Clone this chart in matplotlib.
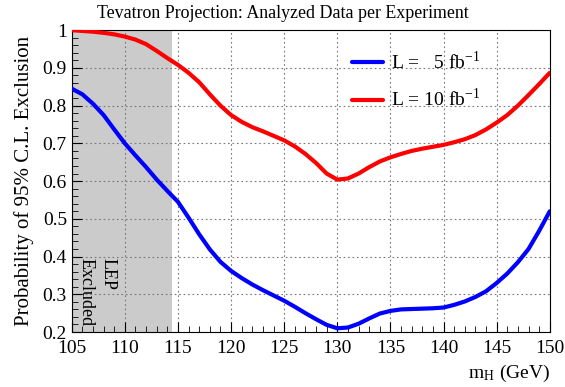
import matplotlib
matplotlib.use("Agg")
import matplotlib.pyplot as plt
from matplotlib.ticker import MultipleLocator

plt.rcParams['font.family'] = ['Liberation Serif', 'DejaVu Serif']
plt.rcParams['mathtext.fontset'] = 'stix'

mass = list(range(105, 151))
prob_5 = [0.845, 0.83, 0.805, 0.775, 0.737, 0.70, 0.668, 0.637, 0.604, 0.574, 0.545,
          0.503, 0.459, 0.419, 0.386, 0.362, 0.343, 0.326, 0.311, 0.297, 0.283,
          0.267, 0.250, 0.234, 0.219, 0.210, 0.212, 0.222, 0.236, 0.249, 0.256,
          0.260, 0.261, 0.262, 0.263, 0.265, 0.272, 0.281, 0.293, 0.308, 0.330,
          0.355, 0.385, 0.420, 0.468, 0.52]
prob_10 = [1.0, 0.998, 0.996, 0.993, 0.989, 0.983, 0.975, 0.963, 0.945, 0.926, 0.908,
           0.887, 0.862, 0.830, 0.800, 0.775, 0.757, 0.743, 0.732, 0.720, 0.708,
           0.692, 0.672, 0.648, 0.620, 0.604, 0.607, 0.620, 0.637, 0.652, 0.663,
           0.672, 0.680, 0.686, 0.691, 0.696, 0.703, 0.711, 0.722, 0.737, 0.755,
           0.775, 0.800, 0.828, 0.857, 0.887]

lep_limit = 114.4
label_5 = r"L =   5 fb$^{\mathregular{-1}}$"
label_10 = r"L = 10 fb$^{\mathregular{-1}}$"

fig = plt.figure(figsize=(5.65, 3.87), dpi=100)
ax = fig.add_axes([0.127, 0.142, 0.846, 0.780])

ax.axvspan(105, lep_limit, color='#cbcbcb', zorder=0, lw=0)
ax.plot(mass, prob_5, color='#0000ff', lw=3, label=label_5, zorder=3,
        solid_joinstyle='round', solid_capstyle='round')
ax.plot(mass, prob_10, color='#ff0000', lw=3, label=label_10, zorder=3,
        solid_joinstyle='round', solid_capstyle='round')

ax.set_xlim(105, 150)
ax.set_ylim(0.2, 1.0)
ax.xaxis.set_major_locator(MultipleLocator(5))
ax.xaxis.set_minor_locator(MultipleLocator(1))
ax.yaxis.set_minor_locator(MultipleLocator(0.02))
ax.set_yticks([0.2, 0.3, 0.4, 0.5, 0.6, 0.7, 0.8, 0.9, 1.0])
ax.set_yticklabels(['0.2', '0.3', '0.4', '0.5', '0.6', '0.7', '0.8', '0.9', '1'])
ax.tick_params(which='both', direction='in', labelsize=14)
ax.tick_params(which='major', length=7)
ax.tick_params(which='minor', length=4)
ax.tick_params(axis='x', pad=6)
ax.grid(True, which='major', color='#777777', ls=(0, (1.5, 2.5)), lw=0.8)

fig.text(0.5, 0.965, "Tevatron Projection: Analyzed Data per Experiment",
         fontsize=12.9, ha='center', va='center')
ax.set_ylabel("Probability of 95% C.L. Exclusion", fontsize=15, labelpad=6)
ax.set_xlabel(r"m$_{\mathregular{H}}$ (GeV)", fontsize=14, loc='right', labelpad=4)

ax.text(107.4, 0.395, "LEP\nExcluded", rotation=270, fontsize=13,
        ha='center', va='top', multialignment='left', linespacing=1.35)

leg = ax.legend(loc='upper left', bbox_to_anchor=(0.55, 0.99), frameon=False,
                fontsize=14, labelspacing=0.8, handlelength=1.6, handletextpad=0.4)

fig.savefig("out.png", dpi=100)
